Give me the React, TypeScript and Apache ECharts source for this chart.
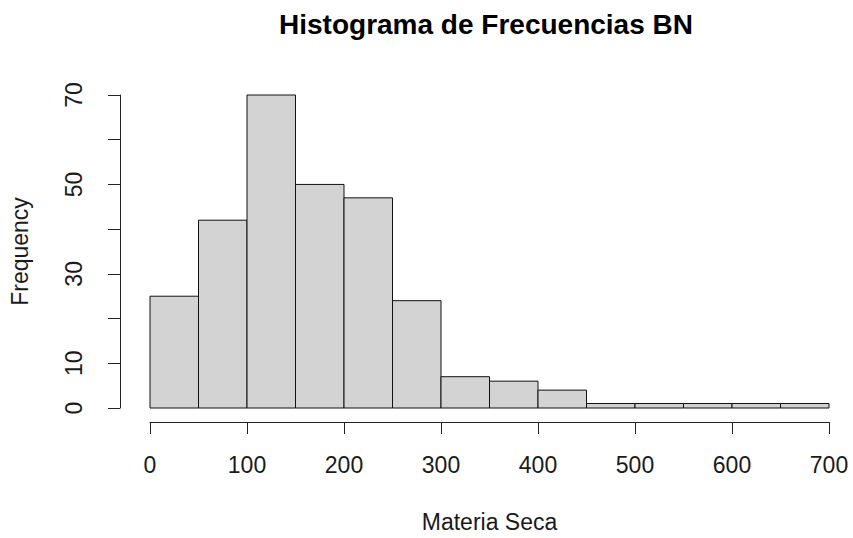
import React, { useEffect, useRef } from "react";
import * as echarts from "echarts";

const binStarts = [0, 50, 100, 150, 200, 250, 300, 350, 400, 450, 500, 550, 600, 650];
const binEnds = [50, 100, 150, 200, 250, 300, 350, 400, 450, 500, 550, 600, 650, 700];
const counts = [25, 42, 70, 50, 47, 24, 7, 6, 4, 1, 1, 1, 1, 1];
const yLabelsShown = [0, 10, 30, 50, 70];

export default function App() {
  const ref = useRef<HTMLDivElement>(null);
  useEffect(() => {
    if (!ref.current) return;
    const chart = echarts.init(ref.current, undefined, { renderer: "svg" });
    const data = counts.map((c, i) => [binStarts[i], binEnds[i], c]);
    const font = "'Liberation Sans', Arial, sans-serif";
    const txt = "#1a1a1a";
    chart.setOption({
      animation: false,
      backgroundColor: "#ffffff",
      title: {
        text: "Histograma de Frecuencias BN",
        left: 486,
        top: 10,
        padding: 0,
        textAlign: "center",
        textStyle: { fontFamily: font, fontSize: 28, fontWeight: "bold", color: "#000" },
      },
      grid: { left: 149, right: 24, top: 95, bottom: 126, containLabel: false },
      xAxis: {
        type: "value",
        min: 0,
        max: 700,
        interval: 100,
        offset: 14,
        name: "Materia Seca",
        nameLocation: "middle",
        nameGap: 88,
        nameTextStyle: { fontFamily: font, fontSize: 23, color: txt },
        axisLine: { show: true, onZero: false, lineStyle: { color: "#222", width: 1 } },
        axisTick: { show: true, length: 12, lineStyle: { color: "#222", width: 1 } },
        axisLabel: { fontFamily: font, fontSize: 23, color: txt, margin: 31 },
        splitLine: { show: false },
      },
      yAxis: {
        type: "value",
        min: 0,
        max: 70,
        interval: 10,
        offset: 30,
        name: "Frequency",
        nameLocation: "middle",
        nameGap: 89,
        nameRotate: 90,
        nameTextStyle: { fontFamily: font, fontSize: 23, color: txt },
        axisLine: { show: true, onZero: false, lineStyle: { color: "#222", width: 1 } },
        axisTick: { show: true, length: 12, lineStyle: { color: "#222", width: 1 } },
        axisLabel: {
          fontFamily: font,
          fontSize: 23,
          color: txt,
          rotate: 90,
          margin: 35,
          formatter: (v: number) => (yLabelsShown.includes(v) ? String(v) : ""),
        },
        splitLine: { show: false },
      },
      series: [
        {
          type: "custom",
          data,
          encode: { x: [0, 1], y: 2 },
          renderItem: (params: any, api: any) => {
            const p0 = api.coord([api.value(0), api.value(2)]);
            const p1 = api.coord([api.value(1), 0]);
            return {
              type: "rect",
              shape: { x: p0[0], y: p0[1], width: p1[0] - p0[0], height: p1[1] - p0[1] },
              style: { fill: "#D3D3D3", stroke: "#111", lineWidth: 1 },
            };
          },
        },
      ],
    });
    return () => chart.dispose();
  }, []);
  return (
    <div
      ref={ref}
      style={{ position: "absolute", left: 0, top: 0, width: 853, height: 538 }}
    />
  );
}
